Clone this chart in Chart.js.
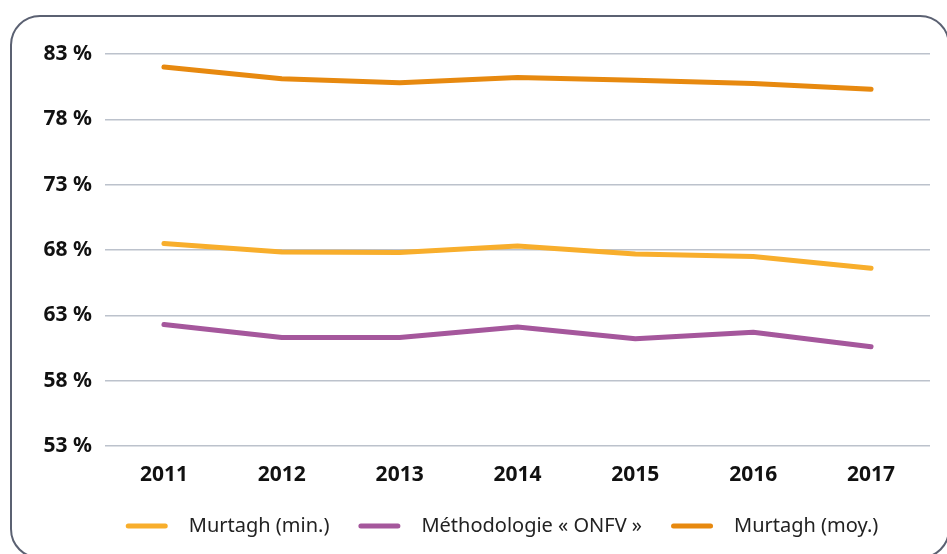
<!DOCTYPE html>
<html>
<head>
<meta charset="utf-8">
<script src="https://cdn.jsdelivr.net/npm/chart.js@4"></script>
<style>
  body { margin: 0; background: #fff; overflow: hidden; }
  #frame {
    position: absolute; left: 10px; top: 15px;
    width: 936px; height: 540px;
    border: 2px solid #5b6172; border-radius: 30px;
  }
  #wrap { position: absolute; left: 0; top: 0; width: 947px; height: 554px; }
</style>
</head>
<body>
<div id="frame"></div>
<div id="wrap"><canvas id="chart" width="947" height="554"></canvas></div>
<script>
// values
const years = ["2011", "2012", "2013", "2014", "2015", "2016", "2017"];
const murtaghMin = [68.5, 67.85, 67.8, 68.3, 67.7, 67.5, 66.6];
const onfv = [62.3, 61.3, 61.3, 62.1, 61.2, 61.7, 60.6];
const murtaghMoy = [82.0, 81.1, 80.8, 81.2, 81.0, 80.75, 80.3];

const yMin = 53, yMax = 83, yStep = 5;

function line(label, data, color) {
  return {
    label: label,
    data: data,
    borderColor: color,
    backgroundColor: color,
    borderWidth: 5,
    borderCapStyle: "round",
    borderJoinStyle: "round",
    pointRadius: 0,
    tension: 0,
  };
}

// legend drawn by hand: wide rounded line markers with roomy spacing
const lineLegend = {
  id: "lineLegend",
  afterDraw(chart) {
    const ctx = chart.ctx;
    const sets = chart.data.datasets;
    const markW = 42, textGap = 21, itemGap = 29;
    ctx.save();
    ctx.font = "20px 'Noto Sans'";
    const widths = sets.map(ds => ctx.measureText(ds.label).width);
    let total = 0;
    widths.forEach((w, i) => { total += markW + textGap + w + (i > 0 ? itemGap : 0); });
    let x = 502 - total / 2;
    const y = 526;
    sets.forEach((ds, i) => {
      ctx.strokeStyle = ds.borderColor;
      ctx.lineWidth = 5;
      ctx.lineCap = "round";
      ctx.beginPath();
      ctx.moveTo(x + 2.5, y);
      ctx.lineTo(x + markW - 2.5, y);
      ctx.stroke();
      ctx.fillStyle = "#222";
      ctx.textBaseline = "middle";
      ctx.fillText(ds.label, x + markW + textGap, y);
      x += markW + textGap + widths[i] + itemGap;
    });
    ctx.restore();
  },
};

new Chart(document.getElementById("chart"), {
  type: "line",
  data: {
    labels: years,
    datasets: [
      line("Murtagh (min.)", murtaghMin, "#f8ae2c"),
      line("Méthodologie « ONFV »", onfv, "#a5579c"),
      line("Murtagh (moy.)", murtaghMoy, "#e7890f"),
    ],
  },
  options: {
    responsive: false,
    animation: false,
    layout: { padding: { top: 54, left: 20, right: 17, bottom: 54 } },
    scales: {
      x: {
        offset: true,
        grid: { display: false, drawTicks: false },
        border: { display: false },
        ticks: {
          color: "#111",
          padding: 16,
          font: { family: "Noto Sans", size: 21, weight: "bold" },
        },
        afterFit: (scale) => { scale.height = 54; },
      },
      y: {
        min: yMin,
        max: yMax,
        grid: { color: "#bcc2cc", lineWidth: 1.5, drawTicks: false },
        border: { display: false },
        ticks: {
          stepSize: yStep,
          color: "#111",
          padding: 13,
          font: { family: "Noto Sans", size: 21, weight: "bold" },
          callback: (v) => v + " %",
        },
        afterFit: (scale) => { scale.width = 85; },
      },
    },
    plugins: {
      legend: { display: false },
      tooltip: { enabled: false },
    },
  },
  plugins: [lineLegend],
});
</script>
</body>
</html>
